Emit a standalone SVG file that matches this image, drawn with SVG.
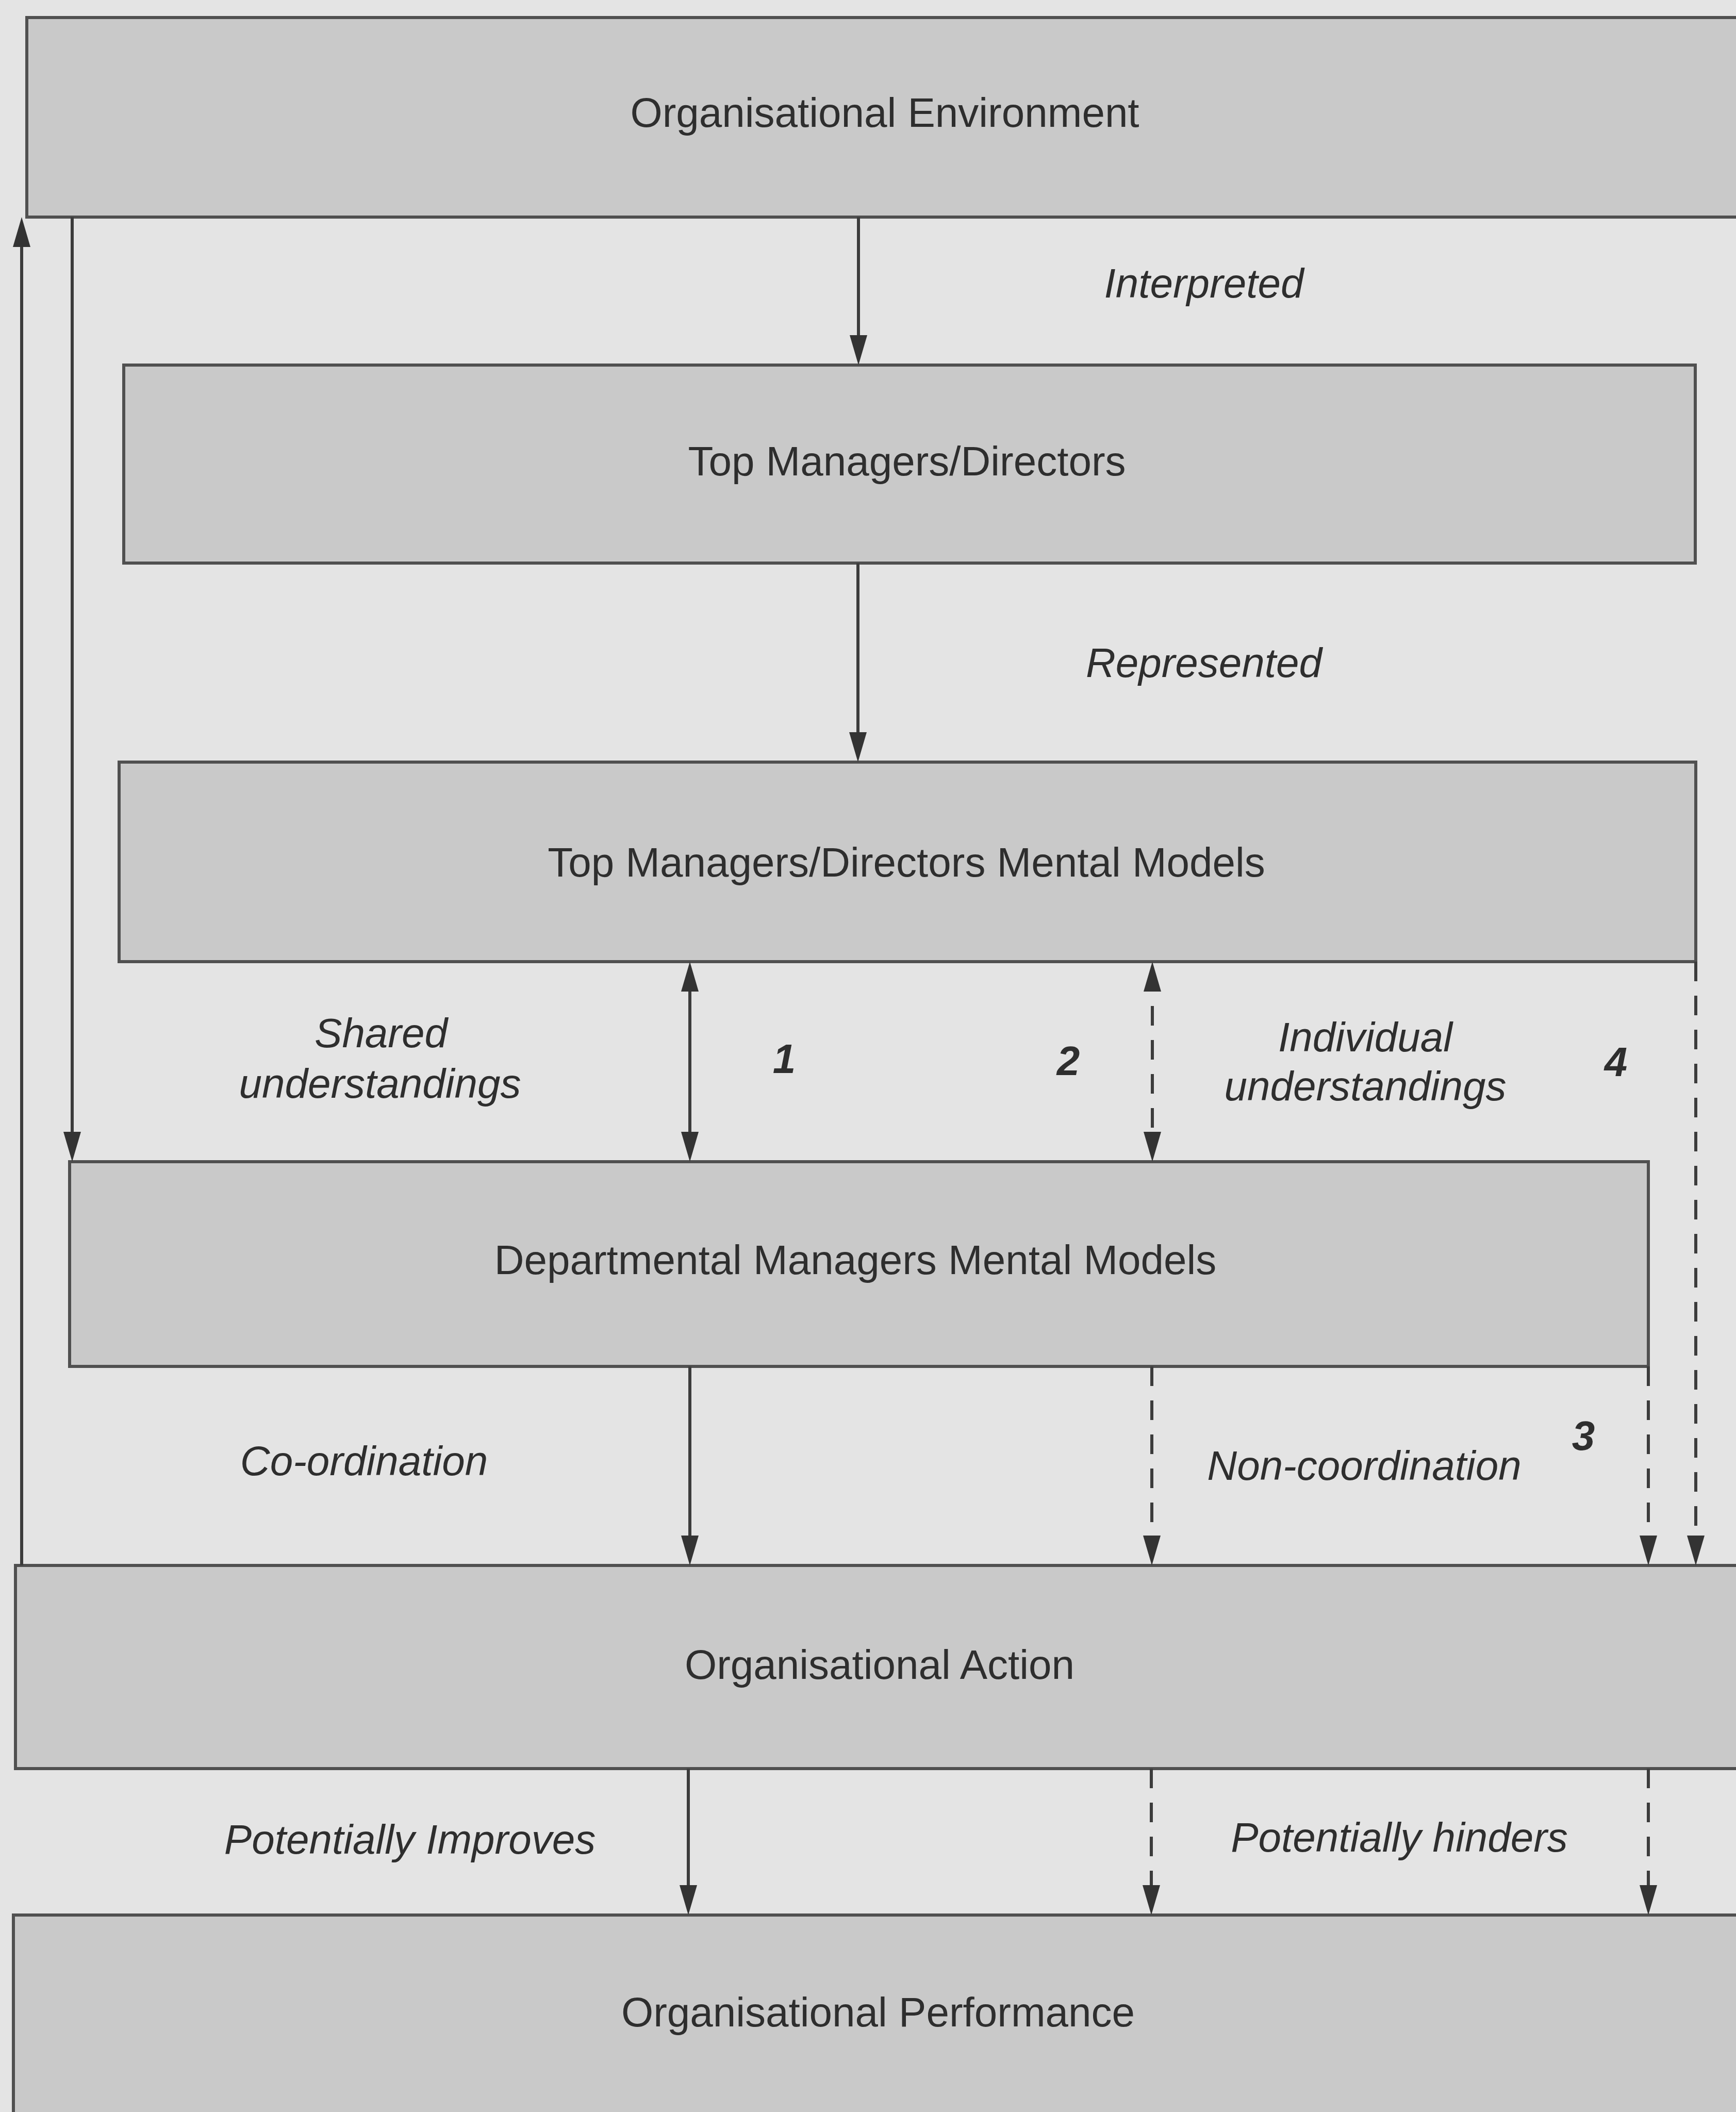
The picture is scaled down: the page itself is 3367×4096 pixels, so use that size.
<svg xmlns="http://www.w3.org/2000/svg" width="3367" height="4096" viewBox="0 0 3367 4096">
  <style>
    .box { fill: #c9c9c9; stroke: #505050; stroke-width: 6; }
    .lbl { font-family: "Liberation Sans", Arial, sans-serif; font-size: 80px; fill: #2e2e2e; text-anchor: middle; }
    .it { font-style: italic; }
    .num { font-style: italic; font-weight: bold; }
    .solid { fill: none; stroke: #3c3c3c; stroke-width: 6; }
    .dash { fill: none; stroke: #3c3c3c; stroke-width: 6; stroke-dasharray: 38 28; }
  </style>
  <defs>
    <marker id="arrow" markerUnits="userSpaceOnUse" markerWidth="60" markerHeight="40" viewBox="0 0 60 40" refX="38" refY="20" orient="auto-start-reverse">
      <path d="M0,3 L58,20 L0,37 z" fill="#333333"/>
    </marker>
  </defs>

  <!-- page -->
  <rect x="0" y="0" width="3367" height="4096" fill="#e4e4e4"/>

  <!-- nodes -->
  <g id="organisational-environment">
    <rect class="box" x="52" y="34" width="3400" height="387"/>
    <text class="lbl" x="1716" y="246">Organisational Environment</text>
  </g>
  <g id="top-managers">
    <rect class="box" x="240" y="708" width="3048" height="384"/>
    <text class="lbl" x="1759" y="922">Top Managers/Directors</text>
  </g>
  <g id="top-managers-mental-models">
    <rect class="box" x="231" y="1478" width="3058" height="387"/>
    <text class="lbl" x="1758" y="1700">Top Managers/Directors Mental Models</text>
  </g>
  <g id="departmental-mental-models">
    <rect class="box" x="135" y="2253" width="3062" height="397"/>
    <text class="lbl" x="1659" y="2471">Departmental Managers Mental Models</text>
  </g>
  <g id="organisational-action">
    <rect class="box" x="30" y="3036" width="3400" height="394"/>
    <text class="lbl" x="1706" y="3256">Organisational Action</text>
  </g>
  <g id="organisational-performance">
    <rect class="box" x="26" y="3714" width="3400" height="500"/>
    <text class="lbl" x="1703" y="3930">Organisational Performance</text>
  </g>

  <!-- connectors -->
  <g id="connectors">
    <line class="solid" x1="1665" y1="421" x2="1665" y2="688" marker-end="url(#arrow)"/>
    <line class="solid" x1="1664" y1="1092" x2="1664" y2="1458" marker-end="url(#arrow)"/>
    <line class="solid" x1="1338" y1="1885" x2="1338" y2="2233" marker-start="url(#arrow)" marker-end="url(#arrow)"/>
    <line class="dash" x1="2235" y1="1885" x2="2235" y2="2233" marker-start="url(#arrow)" marker-end="url(#arrow)"/>
    <line class="dash" x1="3289" y1="1865" x2="3289" y2="3016" marker-end="url(#arrow)"/>
    <line class="solid" x1="1338" y1="2650" x2="1338" y2="3016" marker-end="url(#arrow)"/>
    <line class="dash" x1="2234" y1="2650" x2="2234" y2="3016" marker-end="url(#arrow)"/>
    <line class="dash" x1="3197" y1="2650" x2="3197" y2="3016" marker-end="url(#arrow)"/>
    <line class="solid" x1="1335" y1="3430" x2="1335" y2="3694" marker-end="url(#arrow)"/>
    <line class="dash" x1="2233" y1="3430" x2="2233" y2="3694" marker-end="url(#arrow)"/>
    <line class="dash" x1="3197" y1="3430" x2="3197" y2="3694" marker-end="url(#arrow)"/>
    <!-- feedback from action back up to the environment -->
    <line class="solid" x1="42" y1="3036" x2="42" y2="441" marker-end="url(#arrow)"/>
    <!-- environment directly into departmental models -->
    <line class="solid" x1="140" y1="421" x2="140" y2="2233" marker-end="url(#arrow)"/>
  </g>

  <!-- connector labels -->
  <g id="labels">
    <text class="lbl it" x="2335" y="577">Interpreted</text>
    <text class="lbl it" x="2335" y="1313">Represented</text>
    <text class="lbl it" x="739" y="2031">Shared</text>
    <text class="lbl it" x="737" y="2129">understandings</text>
    <text class="lbl it" x="2648" y="2039">Individual</text>
    <text class="lbl it" x="2648" y="2134">understandings</text>
    <text class="lbl num" x="1521" y="2081">1</text>
    <text class="lbl num" x="2072" y="2085">2</text>
    <text class="lbl num" x="3134" y="2087">4</text>
    <text class="lbl num" x="3071" y="2812">3</text>
    <text class="lbl it" x="706" y="2861">Co-ordination</text>
    <text class="lbl it" x="2646" y="2870">Non-coordination</text>
    <text class="lbl it" x="795" y="3595">Potentially Improves</text>
    <text class="lbl it" x="2714" y="3591">Potentially hinders</text>
  </g>
</svg>
